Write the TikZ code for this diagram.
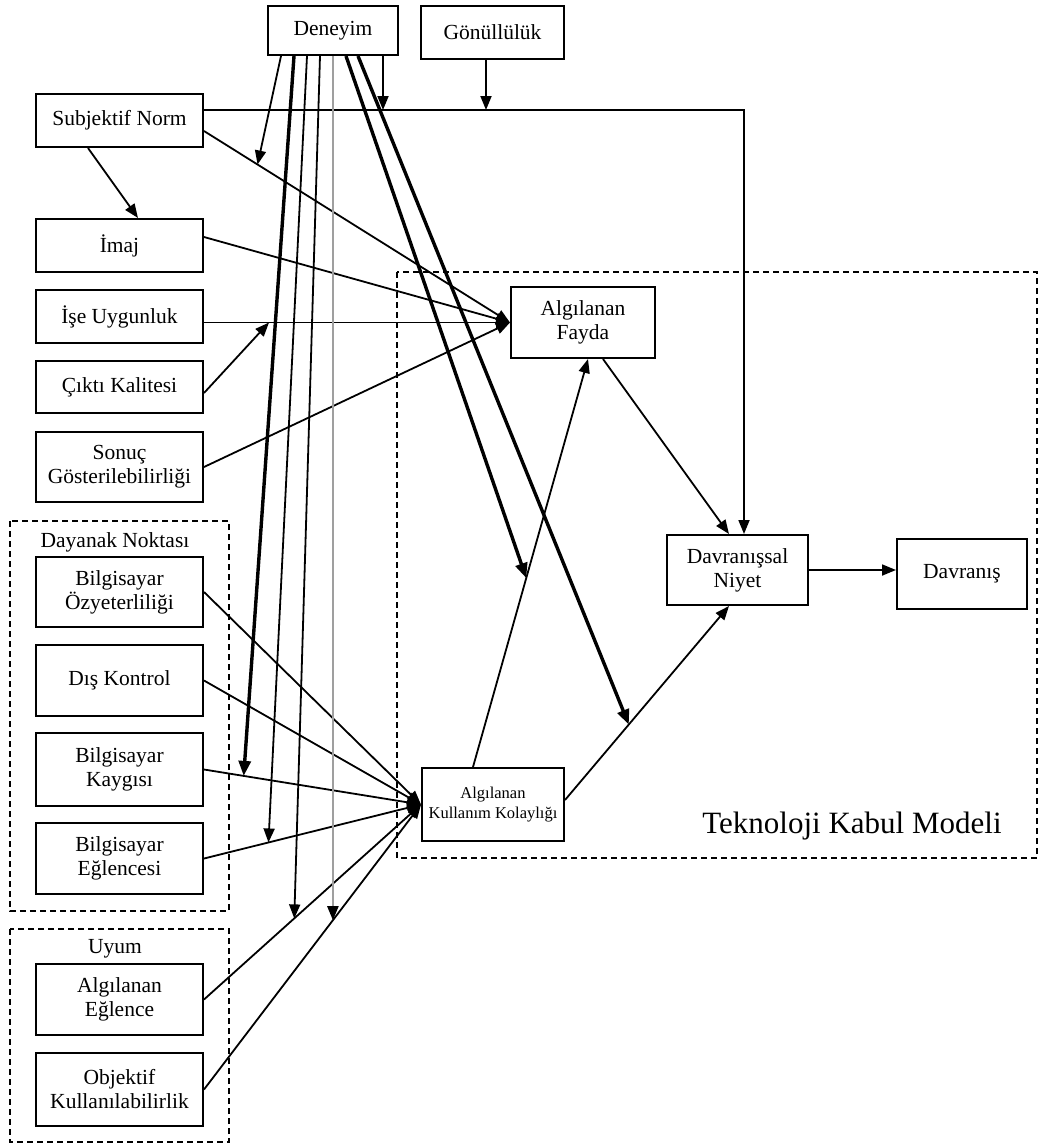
\documentclass[tikz,border=0pt]{standalone}
\usepackage{fontspec}
\setmainfont{Liberation Serif}
\usetikzlibrary{arrows.meta,calc}
\begin{document}
\begin{tikzpicture}[x=1pt,y=-1pt,
  box/.style={draw,line width=2pt,minimum width=167pt,minimum height=53pt,
    align=center,inner sep=2pt,font=\fontsize{21.5}{24}\selectfont},
  grp/.style={draw,line width=1.7pt,dash pattern=on 6pt off 4pt},
  label/.style={anchor=base,inner sep=0pt,font=\fontsize{21.5}{24}\selectfont},
  link/.style={line width=1.8pt},
  arr/.style={link,-{Triangle[length=14pt,width=11pt]}},
  heavy/.style={line width=3.4pt,-{Triangle[length=15pt,width=12pt]}},
  grayarr/.style={line width=2.2pt,draw=gray!75,-{Triangle[length=14pt,width=11pt,color=black]}},
]
\useasboundingbox (0,0) rectangle (1039,1144);

% group frames
\draw[grp] (10,521) rectangle (229,911);
\draw[grp] (10,929) rectangle (229,1142);
\draw[grp] (397,272) rectangle (1037,858);
\node[label] (dnk) at (115,547) {Dayanak Noktası};
\node[label] (uym) at (115,953) {Uyum};
\node[label,font=\fontsize{31}{36}\selectfont] (tkm) at (852,833) {Teknoloji Kabul Modeli};

% top boxes
\node[box,minimum width=130pt,minimum height=49pt] (den) at (333,30.5) {Deneyim};
\node[box,minimum width=143pt,minimum height=53pt] (gon) at (492.5,32.5) {Gönüllülük};

% left column
\node[box] (sn) at (119.5,120.5) {Subjektif Norm};
\node[box] (imaj) at (119.5,245.5) {İmaj};
\node[box] (ise) at (119.5,316.5) {İşe Uygunluk};
\node[box,minimum height=52pt] (cikti) at (119.5,387) {Çıktı Kalitesi};
\node[box,minimum height=70pt] (sonuc) at (119.5,467) {Sonuç\\Gösterilebilirliği};
\node[box,minimum height=70pt] (ozy) at (119.5,592) {Bilgisayar\\Özyeterliliği};
\node[box,minimum height=71pt] (dis) at (119.5,680.5) {Dış Kontrol};
\node[box,minimum height=73pt] (kay) at (119.5,769.5) {Bilgisayar\\Kaygısı};
\node[box,minimum height=71pt] (egl) at (119.5,858.5) {Bilgisayar\\Eğlencesi};
\node[box,minimum height=71pt] (aeg) at (119.5,999.5) {Algılanan\\Eğlence};
\node[box,minimum height=73pt] (obj) at (119.5,1089.5) {Objektif\\Kullanılabilirlik};

% model core
\node[box,minimum width=144pt,minimum height=71pt] (af) at (583,322.5) {Algılanan\\Fayda};
\node[box,minimum width=142pt,minimum height=73pt,font=\fontsize{16.5}{20}\selectfont] (akk) at (493,804.5) {Algılanan\\Kullanım Kolaylığı};
\node[box,minimum width=141pt,minimum height=70pt] (dn) at (737.5,570) {Davranışsal\\Niyet};
\node[box,minimum width=130pt,minimum height=70pt] (dav) at (962,574) {Davranış};

% inputs to perceived usefulness
\coordinate (s1) at ([yshift=-10.5pt]sn.east);
\draw[arr] (s1) -- (af.west);
\draw[arr] ([yshift=8.5pt]imaj.east) -- (af.west);
\draw[arr] (ise.east |- af.west) -- (af.west);
\draw[arr] (sonuc.east) -- (af.west);
\coordinate (t2) at ($(ise.east |- af.west)+(65,0)$);
\draw[arr] ([yshift=-6pt]cikti.east) -- (t2);
\draw[arr] ([xshift=-31.5pt]sn.south) -- ([xshift=18.5pt]imaj.north);

% subjective norm to intention, moderated by voluntariness and experience
\coordinate (corner) at (744,110);
\coordinate (g1) at (486,110);
\coordinate (d8) at (383,110);
\draw[arr] ([yshift=10.5pt]sn.east) -- (corner) -- (corner |- dn.north);
\draw[arr] (g1 |- gon.south) -- (g1);
\draw[arr] (d8 |- den.south) -- (d8);

% inputs to perceived ease of use
\draw[arr] (ozy.east) -- (akk.west);
\draw[arr] (dis.east) -- (akk.west);
\draw[arr] (kay.east) -- (akk.west);
\draw[arr] (egl.east) -- (akk.west);
\draw[arr] (aeg.east) -- (akk.west);
\draw[arr] (obj.east) -- (akk.west);

% core relations
\coordinate (pa) at ([xshift=-20pt]akk.north);
\coordinate (pb) at ([xshift=5pt]af.south);
\coordinate (pc) at ([yshift=4.5pt]akk.east);
\coordinate (pd) at ([xshift=-8.5pt]dn.south);
\draw[arr] (pa) -- (pb);
\draw[arr] ([xshift=20pt]af.south) -- ([xshift=-8.5pt]dn.north);
\draw[arr] (pc) -- (pd);
\draw[arr] (dn.east) -- (dn.east -| dav.west);

% experience as moderator
\coordinate (t1) at ($(s1)!0.175!(af.west)$);
\coordinate (k1) at ($(kay.east)!0.183!(akk.west)$);
\coordinate (k2) at ($(egl.east)!0.297!(akk.west)$);
\coordinate (k3) at ($(aeg.east)!0.416!(akk.west)$);
\coordinate (k4) at ($(obj.east)!0.594!(akk.west)$);
\coordinate (k5) at ($(pa)!0.463!(pb)$);
\coordinate (k6) at ($(pc)!0.389!(pd)$);
\draw[arr] ([xshift=-52pt]den.south) -- (t1);
\draw[heavy] ([xshift=-39pt]den.south) -- (k1);
\draw[arr] ([xshift=-26pt]den.south) -- (k2);
\draw[arr] ([xshift=-13pt]den.south) -- (k3);
\draw[grayarr] (k4 |- den.south) -- (k4);
\draw[heavy] ([xshift=13pt]den.south) -- (k5);
\draw[heavy] ([xshift=25pt]den.south) -- (k6);
\end{tikzpicture}
\end{document}
